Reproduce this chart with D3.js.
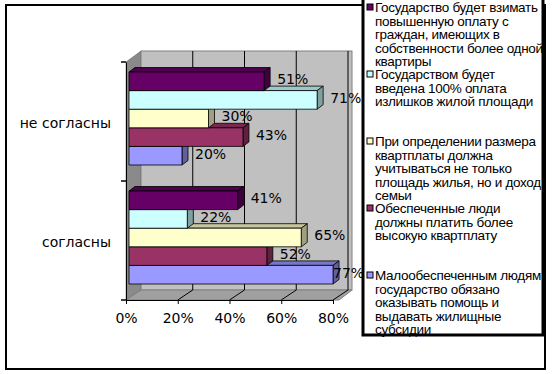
<!DOCTYPE html>
<html>
<head>
<meta charset="utf-8">
<script src="https://cdn.jsdelivr.net/npm/d3@7/dist/d3.min.js"></script>
<style>
  body { margin: 0; background: #fff; }
  svg { display: block; }
</style>
</head>
<body>
<div id="chart"></div>
<script>
// datos
const categories = ["не согласны", "согласны"];
const seriesColors = ["#660066", "#CCFFFF", "#FFFFCC", "#993366", "#9999FF"];
const valuesNeSoglasny = [0.51, 0.71, 0.30, 0.43, 0.20];
const valuesSoglasny = [0.41, 0.22, 0.65, 0.52, 0.77];
const xTicks = [0, 0.2, 0.4, 0.6, 0.8];
const legendLines = [
  ["Государство будет взимать", "повышенную оплату с", "граждан, имеющих в", "собственности более одной", "квартиры"],
  ["Государством будет", "введена 100% оплата", "излишков жилой площади"],
  ["При определении размера", "квартплаты должна", "учитываться не только", "площадь жилья, но и доход", "семьи"],
  ["Обеспеченные люди", "должны платить более", "высокую квартплату"],
  ["Малообеспеченным людям", "государство обязано", "оказывать помощь и", "выдавать жилищные", "субсидии"]
];

const valuesByCat = [valuesNeSoglasny, valuesSoglasny];
const seriesIdx = d3.range(seriesColors.length);

const W = 552, H = 374;
const svg = d3.select("#chart").append("svg")
  .attr("width", W).attr("height", H)
  .style("font-family", "'DejaVu Sans', sans-serif");

// marco exterior
svg.append("rect")
  .attr("x", 6).attr("y", 5).attr("width", 539).attr("height", 364)
  .attr("fill", "#fff").attr("stroke", "#000").attr("stroke-width", 2);

// escalas
const x = d3.scaleLinear().domain([0, 0.8]).range([126, 333]);     // eje frontal
const xBar = d3.scaleLinear().domain([0, 0.8]).range([129, 341]);  // cara frontal de las barras
const y0 = d3.scaleBand().domain(categories).range([62, 300]);
const y1 = d3.scaleBand().domain(seriesIdx).range([13, y0.bandwidth() - 13]);

const depth = { dx: 15, dy: -11 };   // profundidad de la caja 3D
const bd = { dx: 6, dy: -4.5 };      // profundidad de las barras
const shift = 3;                     // barras un poco hacia el fondo

const yTop = y0.range()[0], yBot = y0.range()[1];
const wallRight = x(0.8) + depth.dx + 4;

// pared izquierda
svg.append("polygon")
  .attr("points", [[x(0), yTop], [x(0) + depth.dx, yTop + depth.dy], [x(0) + depth.dx, yBot - 10], [x(0), yBot]].join(" "))
  .attr("fill", "#8a8a8a").attr("stroke", "#555").attr("stroke-width", 0.5);

// pared del fondo
svg.append("rect")
  .attr("x", x(0) + depth.dx).attr("y", yTop + depth.dy)
  .attr("width", wallRight - x(0) - depth.dx).attr("height", yBot - 10 - yTop - depth.dy)
  .attr("fill", "#c0c0c0").attr("stroke", "#808080").attr("stroke-width", 1);

// suelo
svg.append("polygon")
  .attr("points", [[x(0), yBot], [x(0) + depth.dx, yBot - 10], [wallRight, yBot - 10], [wallRight - depth.dx + 2, yBot]].join(" "))
  .attr("fill", "#a0a0a0").attr("stroke", "#808080").attr("stroke-width", 1);

// líneas de cuadrícula
const grid = svg.append("g").attr("stroke", "#000").attr("stroke-width", 1);
xTicks.slice(1).forEach(t => {
  grid.append("line")
    .attr("x1", x(t) + depth.dx).attr("x2", x(t) + depth.dx)
    .attr("y1", yTop + depth.dy).attr("y2", yBot - 10);
  grid.append("line")
    .attr("x1", x(t)).attr("y1", yBot)
    .attr("x2", x(t) + depth.dx).attr("y2", yBot - 10);
});

// barras (de abajo hacia arriba para que las de arriba tapen)
const bars = svg.append("g");
categories.slice().reverse().forEach(cat => {
  const ci = categories.indexOf(cat);
  seriesIdx.slice().reverse().forEach(s => {
    const v = valuesByCat[ci][s];
    const col = d3.color(seriesColors[s]);
    const bx0 = xBar(0), bx1 = xBar(v);
    const by = y0(cat) + y1(s) - shift, bh = y1.bandwidth();
    const g = bars.append("g").attr("stroke", "#000").attr("stroke-width", 0.8).attr("stroke-linejoin", "round");
    g.append("polygon")
      .attr("points", [[bx0, by], [bx0 + bd.dx, by + bd.dy], [bx1 + bd.dx, by + bd.dy], [bx1, by]].join(" "))
      .attr("fill", col.darker(0.7));
    g.append("polygon")
      .attr("points", [[bx1, by], [bx1 + bd.dx, by + bd.dy], [bx1 + bd.dx, by + bh + bd.dy], [bx1, by + bh]].join(" "))
      .attr("fill", col.darker(1.3));
    g.append("rect")
      .attr("x", bx0).attr("y", by).attr("width", bx1 - bx0).attr("height", bh)
      .attr("fill", col);
  });
});

// etiquetas de datos (no pasan del borde derecho del área)
const fmt = d3.format(".0%");
categories.forEach((cat, ci) => {
  seriesIdx.forEach(s => {
    const v = valuesByCat[ci][s];
    svg.append("text")
      .attr("x", Math.min(xBar(v) + 13, x(0.8)))
      .attr("y", y0(cat) + y1(s) - shift + y1.bandwidth() / 2 - 2)
      .attr("dy", "0.35em")
      .attr("font-size", 14)
      .attr("fill", "#000")
      .text(fmt(v));
  });
});

// eje X
const xAxis = svg.append("g")
  .attr("transform", `translate(0,${yBot})`)
  .call(d3.axisBottom(x).tickValues(xTicks).tickFormat(fmt).tickSize(4).tickPadding(9).tickSizeOuter(0));
xAxis.selectAll("text").attr("font-size", 14).attr("font-family", "'DejaVu Sans', sans-serif");
xAxis.select(".domain").attr("stroke", "#000");

// eje Y
const yAxis = svg.append("g")
  .attr("transform", `translate(${x(0)},0)`)
  .call(d3.axisLeft(y0).tickSize(0).tickPadding(15));
yAxis.select(".domain").attr("stroke", "#000");
yAxis.selectAll("text").attr("font-size", 14).attr("font-family", "'DejaVu Sans', sans-serif").attr("dy", "0.45em");
[...categories.map(c => y0(c)), yBot].forEach(yy => {
  svg.append("line").attr("x1", x(0) - 5).attr("x2", x(0)).attr("y1", yy).attr("y2", yy)
    .attr("stroke", "#000").attr("stroke-width", 1.5);
});

// leyenda
const lg = svg.append("g");
lg.append("rect").attr("x", 363).attr("y", -2).attr("width", 180).attr("height", 337).attr("fill", "#fff");
legendLines.forEach((lines, i) => {
  const base = 12 + i * 67;
  lg.append("rect")
    .attr("x", 367).attr("y", base - 8).attr("width", 6).attr("height", 6)
    .attr("fill", seriesColors[i]).attr("stroke", "#000").attr("stroke-width", 1);
  const t = lg.append("text")
    .attr("font-family", "'Liberation Sans', Arial, sans-serif")
    .attr("font-size", 13.5)
    .attr("letter-spacing", -0.3);
  lines.forEach((ln, k) => {
    t.append("tspan").attr("x", 375).attr("y", base + k * 13.6).text(ln);
  });
});
lg.append("rect").attr("x", 363).attr("y", -2).attr("width", 180).attr("height", 337)
  .attr("fill", "none").attr("stroke", "#000").attr("stroke-width", 3);
</script>
</body>
</html>
